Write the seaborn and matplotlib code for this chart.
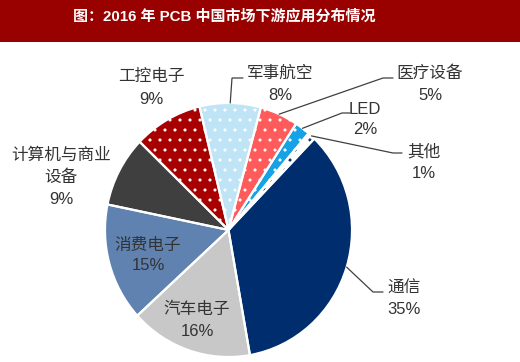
import matplotlib
matplotlib.use('Agg')
import matplotlib.pyplot as plt
import seaborn as sns
import numpy as np

# ---------------- data ----------------
title = '图：2016 年 PCB 中国市场下游应用分布情况'
categories = ['通信', '汽车电子', '消费电子', '计算机与商业\n设备', '工控电子',
              '军事航空', '医疗设备', 'LED', '其他']
shares = [35, 16, 15, 9, 9, 8, 5, 2, 1]

# ---------------- styles ----------------
face_colors = ['#002D6E', '#C8C8C8', '#6082B0', '#3F3F3F', '#A80000',
               '#BFE4F6', '#FF5B5B', '#16A2E6', '#FFFFFF']
hatches = [None, None, None, None, '.', '.', '.', '.', '.']
hatch_colors = ['#FFFFFF'] * 8 + ['#002D6E']

# label layout (pixel positions, top-left origin): x, first line y, line step
label_layout = [
    (404, 288, 21),
    (197, 309, 23),
    (148, 245, 21),
    (61, 155, 22),
    (151, 76, 23),
    (280, 73, 22),
    (430, 73, 22),
    (365, 109, 21),
    (424, 152, 21),
]
# leader lines: (elbow, end) in pixels, None for no leader
leaders = [
    ((373, 292), (383, 292)),
    None, None, None, None,
    ((232, 78), (243, 78)),
    ((383, 78), (393, 78)),
    ((342, 113), (350, 113)),
    ((393, 153), (402, 153)),
]

sns.set_theme(style='white')
plt.rcParams['font.family'] = ['Liberation Sans', 'Noto Sans CJK SC', 'DejaVu Sans']
plt.rcParams['hatch.linewidth'] = 1.3

DPI = 60
W, H = 520, 362
fig = plt.figure(figsize=(W / DPI, H / DPI), dpi=DPI)
fig.patch.set_facecolor('white')

# pie axes
L, R, T, B = 105, 352, 103, 357
ax = fig.add_axes([L / W, 1 - B / H, (R - L) / W, (B - T) / H])
palette = sns.color_palette(face_colors)
wedges, _ = ax.pie(shares, startangle=46, counterclock=False, colors=palette,
                   wedgeprops=dict(linewidth=0))
for w, h, hc in zip(wedges, hatches, hatch_colors):
    w.set_edgecolor(hc)
    if h:
        w.set_hatch(h)
ax.pie(shares, startangle=46, counterclock=False,
       wedgeprops=dict(fill=False, edgecolor='white', linewidth=2.6))
ax.set_aspect('auto')
ax.set_xlim(-1, 1)
ax.set_ylim(-1, 1)
ax.axis('off')

# overlay in pixel coordinates
over = fig.add_axes([0, 0, 1, 1])
over.set_xlim(0, W)
over.set_ylim(H, 0)
over.axis('off')

over.add_patch(plt.Rectangle((0, 0), W, 42, facecolor='#990000', edgecolor='none'))
over.text(224, 16, title, color='white', fontsize=18, fontweight='bold',
          ha='center', va='center')

fig.canvas.draw()
for w, cat, v, lay, ld in zip(wedges, categories, shares, label_layout, leaders):
    x, y0, step = lay
    lines = cat.split('\n') + [f'{v}%']
    for i, s in enumerate(lines):
        over.text(x, y0 + i * step, s, fontsize=20, color='#333333',
                  ha='center', va='center')
    if ld is not None:
        mid = np.deg2rad((w.theta1 + w.theta2) / 2)
        dx, dy = ax.transData.transform((np.cos(mid), np.sin(mid)))
        sx, sy = dx, H - dy
        (ex, ey), (fx, fy) = ld
        over.plot([sx, ex, fx], [sy, ey, fy], color='#404040', lw=1.5,
                  solid_joinstyle='miter')

fig.savefig('out.png', dpi=DPI, facecolor='white')
